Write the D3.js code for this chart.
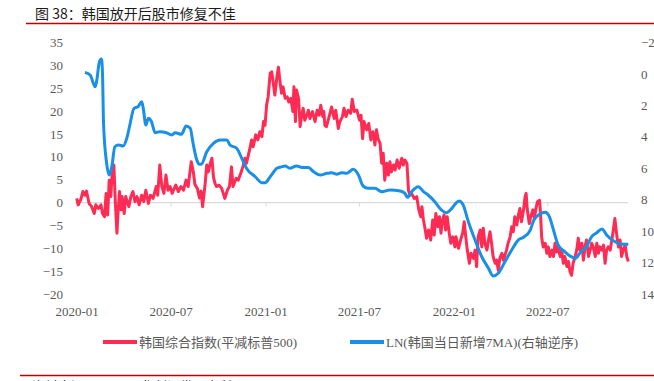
<!DOCTYPE html>
<html><head><meta charset="utf-8">
<script src="https://cdn.jsdelivr.net/npm/d3@7"></script>
<style>
html,body{margin:0;padding:0;background:#fff;}
svg{display:block;}
</style></head>
<body><svg id="c" width="654" height="381"></svg>
<script>
// ---- data ----
const baseDate = new Date(2020, 0, 1);
const titleText = "图 38：韩国放开后股市修复不佳";
const sourceText = "资料来源：Wind，华创证券研究所";
const seriesNames = ["韩国综合指数(平减标普500)", "LN(韩国当日新增7MA)(右轴逆序)"];
const leftTicks = [35, 30, 25, 20, 15, 10, 5, 0, -5, -10, -15, -20];
const rightTicks = [-2, 0, 2, 4, 6, 8, 10, 12, 14];
const xTickLabels = ["2020-01", "2020-07", "2021-01", "2021-07", "2022-01", "2022-07"];
// day offsets from 2020-01-01 and values
const redDay = [0,3,8,12,16,19,24,29,34,37,42,47,50,54,57,60,63,66,69,72,75,78,80,83,86,88,92,95,98,101,105,109,113,117,121,126,130,134,139,143,148,154,157,161,165,169,173,177,181,185,189,192,197,202,207,212,216,222,226,229,234,238,241,244,249,252,255,258,262,265,268,271,276,281,287,292,296,300,303,309,313,318,322,326,329,335,339,342,347,351,355,359,362,365,368,371,375,378,381,384,388,391,394,397,400,404,408,411,415,419,421,424,426,430,433,436,439,442,446,449,452,457,462,466,470,473,477,479,481,484,490,494,499,502,507,510,515,518,522,526,531,534,538,543,548,551,554,557,562,566,570,574,578,581,584,588,591,594,597,601,604,607,610,614,617,621,625,630,633,636,640,643,646,649,654,659,663,667,669,672,675,678,682,686,690,693,696,700,703,706,709,712,715,718,722,725,729,733,735,740,744,748,751,754,757,761,764,769,772,775,778,782,785,788,791,795,798,801,804,807,811,814,817,820,824,827,830,833,836,840,843,846,849,853,856,859,862,866,869,871,873,877,880,884,887,890,893,897,899,901,904,908,911,914,917,921,924,927,930,933,937,940,943,946,950,953,956,959,962,966,969,972,975,979,982,985,988,992,995,998,1001,1005,1008,1011,1014,1018,1021,1024,1027,1030,1034,1037,1040,1043,1047,1050,1053,1056,1059,1063,1066,1069];
const redValue = [0.9,-0.5,0.7,2.4,1.6,2.5,-0.2,-0.9,-2.4,-0.5,-1.3,-0.5,-2.4,-3.1,2.0,-2.7,4.9,1.3,6.7,8.2,-0.2,-6.7,-2.4,2.4,-1.6,1.3,-2.4,1.3,0.2,-0.9,1.3,2.4,0.2,1.3,-0.5,1.6,0.2,2.7,-0.2,1.6,0.9,3.5,1.6,8.2,3.5,2.0,6.0,2.7,3.5,2.0,3.1,3.8,2.4,3.5,2.7,4.9,3.5,8.9,6.7,4.0,3.0,1.0,2.5,-0.9,4.2,8.2,6.7,8.2,9.7,5.6,4.2,3.5,3.8,3.1,0.9,2.7,3.5,7.8,3.5,5.3,4.9,6.4,7.8,9.7,8.6,11.5,13.7,12.2,14.8,13.7,15.5,14.4,17.7,16.9,21.3,23.1,28.3,28.6,26.1,23.5,27.5,29.6,26.4,23.9,25.3,22.8,23.1,22.0,22.8,19.9,25.3,17.7,24.6,22.8,16.6,19.1,20.6,18.0,19.1,20.2,18.4,19.9,17.7,20.2,19.1,21.3,18.8,19.9,16.9,16.6,19.1,20.9,18.4,20.2,16.2,17.7,18.8,20.6,18.8,20.2,19.5,22.6,19.9,20.2,18.0,19.1,14.0,17.7,15.9,17.3,13.7,15.5,12.6,15.9,14.0,12.9,8.6,10.8,4.9,8.6,6.0,8.9,6.7,8.2,7.1,9.3,7.5,9.7,8.2,9.3,8.6,2.7,1.6,2.0,0.9,1.3,-1.6,-3.1,-0.9,-3.8,-5.6,-7.8,-6.0,-8.2,-3.8,-7.1,-2.4,-5.3,-3.1,-6.7,-3.8,-2.7,-6.0,-3.1,-6.7,-8.9,-7.5,-9.7,-7.5,-10.0,-8.2,-6.7,-4.2,-7.5,-10.4,-13.3,-11.1,-12.2,-10.4,-14.0,-7.5,-6.0,-9.7,-5.6,-8.9,-10.4,-8.2,-6.4,-8.9,-11.8,-13.3,-12.6,-14.8,-12.2,-11.1,-12.6,-11.5,-10.4,-8.9,-7.5,-5.3,-6.4,-3.1,-4.9,-2.7,-1.3,-4.2,-1.6,1.3,2.0,-1.3,-4.6,-3.1,-1.6,-3.5,-1.3,0.2,0.5,-2.7,-7.5,-9.7,-8.9,-11.1,-9.7,-11.8,-10.4,-11.8,-8.9,-10.8,-9.7,-11.8,-10.4,-13.3,-11.8,-14.0,-12.9,-15.1,-15.9,-13.3,-11.8,-10.4,-7.8,-10.4,-8.9,-12.6,-9.7,-8.2,-11.8,-10.4,-8.9,-9.7,-11.8,-8.9,-11.1,-9.7,-10.4,-9.3,-13.3,-10.4,-9.7,-10.4,-8.2,-6.0,-3.5,-7.5,-9.7,-8.2,-11.8,-10.4,-9.3,-11.8,-12.9];
const blueDay = [16,26,36,39,44,48,50,52,58,63,68,74,81,90,97,103,111,119,126,129,134,139,145,152,161,174,184,191,203,212,220,226,233,238,242,252,265,278,291,297,310,320,329,346,359,365,375,388,394,404,413,426,439,449,459,472,485,494,504,514,523,536,546,555,565,578,591,607,627,636,641,649,662,672,681,694,707,716,727,736,741,749,759,772,785,798,807,817,830,843,856,866,879,886,897,908,916,924,933,946,956,966,977,988,998,1008,1018,1027,1040,1053,1069];
const blueValue = [-0.10,0.07,0.82,0.39,-0.78,-0.95,-0.04,3.14,5.68,6.43,5.9,4.63,4.52,4.59,4.1,3.25,2.19,2.08,1.77,2.19,3.25,2.82,3.04,3.74,3.67,3.74,3.88,3.74,3.84,3.31,3.45,4.5,5.5,5.75,5.73,4.95,4.41,4.2,4.2,4.52,4.73,5.37,6.0,6.54,6.92,6.92,6.54,6.0,5.94,5.86,6.0,5.86,5.96,5.96,6.22,6.43,6.32,6.28,6.38,6.28,6.32,6.07,6.43,7.13,7.27,7.27,7.49,7.38,7.45,7.6,7.85,7.49,7.17,7.49,7.7,8.13,8.66,8.83,8.55,8.19,8.08,8.34,9.4,10.56,11.63,12.36,12.85,12.68,11.94,11.2,10.56,10.39,9.93,9.29,8.93,8.8,9.08,9.93,10.88,11.31,11.58,11.73,11.31,10.99,10.35,10.1,9.86,10.25,10.61,10.82,10.84];
const redColor = "#fe2c54", blueColor = "#1a8fe6";

// ---- drawing ----
const SERIF = "'Liberation Serif','Times New Roman','Noto Sans CJK SC',serif";
const svg = d3.select("#c");
const dayToDate = d => d3.timeDay.offset(baseDate, d);
const x = d3.scaleTime().domain([baseDate, dayToDate(1069)]).range([76.7, 628.3]);
const yL = d3.scaleLinear().domain([-20, 35]).range([294, 42.5]);
const yR = d3.scaleLinear().domain([-2, 14]).range([42.5, 294]);
const styleText = sel => sel.selectAll("text")
  .attr("font-family", SERIF).style("font-family", SERIF)
  .style("font-size", "13px").style("fill", "#595959");

// title & rules
svg.append("text").attr("x", 35).attr("y", 19).text(titleText)
  .style("font-family", "'Noto Sans CJK SC',sans-serif").style("font-size", "14px").style("fill", "#1a1a1a");
svg.append("line").attr("x1", 26).attr("x2", 654).attr("y1", 23.5).attr("y2", 23.5)
  .attr("stroke", "#c00000").attr("stroke-width", 1.5);
svg.append("line").attr("x1", 20).attr("x2", 654).attr("y1", 375.5).attr("y2", 375.5)
  .attr("stroke", "#c00000").attr("stroke-width", 1.5);
svg.append("text").attr("x", 32).attr("y", 391).text(sourceText)
  .style("font-family", "'Noto Sans CJK SC',sans-serif").style("font-size", "13px").style("fill", "#1a1a1a");

// zero line with ticks
svg.append("line").attr("x1", 75).attr("x2", 628).attr("y1", yL(0)).attr("y2", yL(0))
  .attr("stroke", "#d9d9d9").attr("stroke-width", 1.2);
const xTickDates = xTickLabels.map(s => d3.timeParse("%Y-%m")(s));
svg.append("g").attr("transform", `translate(0,${yL(0)})`)
  .call(d3.axisBottom(x).tickValues(xTickDates).tickSize(4).tickFormat(() => ""))
  .call(g => g.select(".domain").remove())
  .call(g => g.selectAll("line").attr("stroke", "#d9d9d9"));

// x labels
svg.append("g").attr("transform", "translate(0,304)")
  .call(d3.axisBottom(x).tickValues(xTickDates).tickSize(0).tickFormat(d3.timeFormat("%Y-%m")))
  .call(g => g.select(".domain").remove())
  .call(styleText);

// left axis
svg.append("g").attr("transform", "translate(66,0)")
  .call(d3.axisLeft(yL).tickValues(leftTicks).tickSize(0).tickPadding(3))
  .call(g => g.select(".domain").remove())
  .call(styleText);
// right axis
svg.append("g").attr("transform", "translate(638,0)")
  .call(d3.axisRight(yR).tickValues(rightTicks).tickSize(0).tickPadding(3))
  .call(g => g.select(".domain").remove())
  .call(styleText);

// lines
const redLine = d3.line().x((d, i) => x(dayToDate(redDay[i]))).y(d => yL(d));
svg.append("path").datum(redValue).attr("d", redLine)
  .attr("fill", "none").attr("stroke", redColor).attr("stroke-width", 3).attr("stroke-linejoin", "round");
const blueLine = d3.line().x((d, i) => x(dayToDate(blueDay[i]))).y(d => yR(d)).curve(d3.curveMonotoneX);
svg.append("path").datum(blueValue).attr("d", blueLine)
  .attr("fill", "none").attr("stroke", blueColor).attr("stroke-width", 3).attr("stroke-linejoin", "round");

// legend
const legend = [{name: seriesNames[0], color: redColor, x: 103}, {name: seriesNames[1], color: blueColor, x: 350}];
const lg = svg.append("g");
legend.forEach(l => {
  lg.append("line").attr("x1", l.x).attr("x2", l.x + 34).attr("y1", 342).attr("y2", 342)
    .attr("stroke", l.color).attr("stroke-width", 4);
  lg.append("text").attr("x", l.x + 36).attr("y", 347).text(l.name);
});
lg.call(styleText);
</script></body></html>
